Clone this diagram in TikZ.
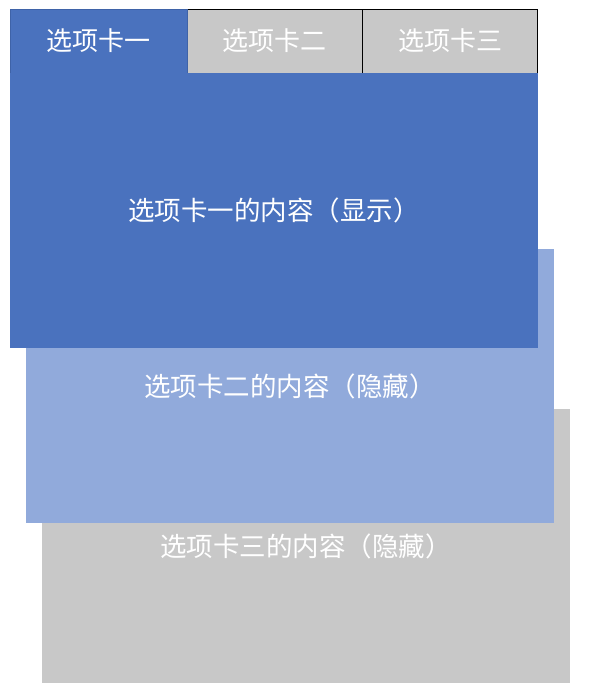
\documentclass[tikz,border=0pt]{standalone}
\usepackage{fontspec}
\newfontfamily\cjk{Noto Sans CJK SC}
\definecolor{tabblue}{HTML}{4A72BE}
\definecolor{tabblueline}{HTML}{3F63A8}
\definecolor{lightblue}{HTML}{91AADB}
\definecolor{grayc}{HTML}{C8C8C8}
\begin{document}
\begin{tikzpicture}[x=1pt,y=-1pt,
  panel/.style={rectangle,inner sep=0pt,outer sep=0pt,draw=none,
    minimum width=528pt,minimum height=274pt,text=white,
    font=\cjk\fontsize{26.5}{30}\selectfont},
  tabbox/.style={rectangle,inner sep=0pt,outer sep=0pt,line width=0.8pt,
    minimum width=175.5pt,minimum height=64pt,text=white,
    font=\cjk\fontsize{26}{30}\selectfont}]
\useasboundingbox (0,0) rectangle (589,691);
% stacked content panels
\node[panel,fill=grayc] (c3) at (306,546) {选项卡三的内容（隐藏）};
\node[panel,fill=lightblue] (c2) at (290,386) {选项卡二的内容（隐藏）};
% tabs
\node[tabbox,fill=grayc,draw=black] (t2) at (274.5,41) {选项卡二};
\node[tabbox,fill=grayc,draw=black] (t3) at (450,41) {选项卡三};
\node[tabbox,fill=tabblue,draw=tabblueline,minimum width=177pt] (t1) at (98.5,41) {选项卡一};
% active content
\node[panel,fill=tabblue,minimum height=275pt] (c1) at (274,210) {选项卡一的内容（显示）};
\end{tikzpicture}
\end{document}
